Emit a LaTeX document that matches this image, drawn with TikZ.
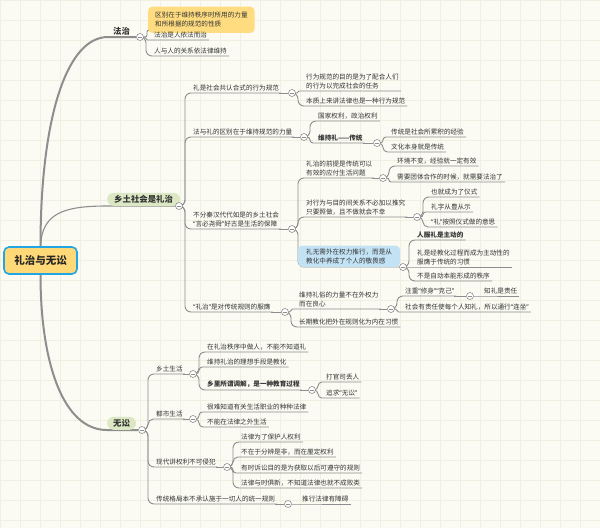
\documentclass[tikz,border=0pt]{standalone}
\usepackage{fontspec}
\newfontfamily\cjk{Noto Sans CJK SC}
\newfontfamily\latq{Noto Sans}
\newcommand\mmoq{{\latq “}}
\newcommand\mmcq{{\latq ”}}
\usetikzlibrary{calc}
\definecolor{bgc}{HTML}{FBFBF3}
\definecolor{gridc}{HTML}{EFEFE2}
\definecolor{ln}{HTML}{8E8E8E}
\definecolor{tx}{HTML}{333333}
\definecolor{rootfill}{HTML}{FFD978}
\definecolor{rootdraw}{HTML}{21A6E3}
\definecolor{pillc}{HTML}{DCE7C4}
\definecolor{hly}{HTML}{FFDC80}
\definecolor{hlb}{HTML}{C3E3F5}
\pgfdeclarelayer{back}
\pgfdeclarelayer{lines}
\pgfsetlayers{back,lines,main}
% #1 style, #2 parent circle, #3 pcx, #4 pcy, #5 name, #6 underline y, #7 text
\newcommand\mmkid[7][]{%
  \pgfmathsetmacro\rr{min(6,abs(#6-#4)/2)}%
  \node[txt,#1] (#5) at (#3+14,#6-1.8) {#7};%
  \begin{pgfonlayer}{lines}%
  \draw[br,rounded corners=\rr pt] (#2) -| ([xshift=-8pt,yshift=-1.8pt]#5.south west) -- ([xshift=2pt,yshift=-1.8pt]#5.south east);%
  \end{pgfonlayer}%
}
\newcommand\mmext[2]{%
  \begin{pgfonlayer}{lines}\draw[br] ([yshift=-1.8pt]#1.south east) -- (#2);\end{pgfonlayer}%
}
\begin{document}
\begin{tikzpicture}[x=1pt,y=-1pt,
  txt/.style={font=\cjk\fontsize{6.6}{9}\selectfont, text=tx, anchor=south west, inner xsep=0pt, inner ysep=0pt, align=left},
  bold/.style={font=\cjk\bfseries\fontsize{6.6}{9}\selectfont},
  br/.style={draw=ln, line width=0.9pt},
  trunk/.style={draw=ln, line width=2pt},
  col/.style={circle, draw=ln, fill=white, line width=0.6pt, minimum size=7pt, inner sep=0pt,
    path picture={\draw[ln,line width=0.7pt] ([xshift=-2pt]path picture bounding box.center) -- ([xshift=2pt]path picture bounding box.center);}},
  pill/.style={fill=pillc, rounded corners=6.5pt, minimum height=13pt, inner xsep=7pt, inner ysep=0pt, anchor=south west, text=tx, font=\cjk\bfseries\fontsize{8.4}{10}\selectfont},
  hlbox/.style={txt, rounded corners=4pt, inner xsep=7pt, inner ysep=5.5pt}
]
\useasboundingbox (0,0) rectangle (600,528);
\begin{pgfonlayer}{back}
\fill[bgc] (0,0) rectangle (600,528);
\foreach \i in {0,20,...,600} \draw[gridc,line width=0.5pt] (\i,0) -- (\i,528);
\foreach \i in {0,20,...,520} \draw[gridc,line width=0.5pt] (0,\i) -- (600,\i);
\end{pgfonlayer}

% root and level 1
\node[rounded corners=5pt, fill=rootfill, draw=rootdraw, line width=1.6pt, minimum width=73pt, minimum height=27pt, text=black!85, font=\cjk\bfseries\fontsize{10.5}{12}\selectfont] (root) at (40.5,260.5) {礼治与无讼};
\node[txt, font=\cjk\bfseries\fontsize{8.4}{10}\selectfont] (FZ) at (113,35.3) {法治};
\node[col] (FZC) at (140,37) {};
\node[pill] (QP) at (107,206) {乡土社会是礼治};
\node[col] (QC) at (179,206) {};
\node[pill, inner xsep=6pt] (WP) at (107,430) {无讼};
\node[col] (WC) at (142,430) {};
\begin{pgfonlayer}{lines}
\draw[trunk] (root.north) .. controls (40.5,120) and (66,37) .. (108,37) -- (FZC);
\draw[trunk] (root.south) .. controls (40.5,360) and (62,430) .. (WP.south west) -- (WC);
\draw[br,line width=1.1pt] (root.north) .. controls (42,214) and (62,206) .. (QP.south west) -- (QC);
\end{pgfonlayer}

% 法治
\node[hlbox, fill=hly] (F1) at (148,33) {区别在于维持秩序时所用的力量\\和所根据的规范的性质};
\begin{pgfonlayer}{lines}
\draw[br,rounded corners=2pt] (FZC) -| ([xshift=-1pt,yshift=3pt]F1.south west) -- ([xshift=5pt,yshift=3pt]F1.south west);
\end{pgfonlayer}
\mmkid{FZC}{140}{37}{F2}{40}{法治是人依法而治}
\mmkid{FZC}{140}{37}{F3}{56}{人与人的关系依法律维持}

% 乡土社会是礼治
\mmkid{QC}{179}{206}{A1}{93}{礼是社会共认合式的行为规范}
\node[col] (A1C) at (292,93) {};
\mmext{A1}{A1C}
\mmkid{A1C}{292}{93}{A11}{91}{行为规范的目的是为了配合人们\\的行为以完成社会的任务}
\mmkid{A1C}{292}{93}{A12}{106}{本质上来讲法律也是一种行为规范}

\mmkid{QC}{179}{206}{A2}{137}{法与礼的区别在于维持规范的力量}
\node[col] (A2C) at (304,137) {};
\mmext{A2}{A2C}
\mmkid{A2C}{304}{137}{A21}{121}{国家权利，政治权利}
\mmkid[bold]{A2C}{304}{137}{A22}{143}{维持礼——传统}
\node[col] (A22C) at (377,143) {};
\mmext{A22}{A22C}
\mmkid{A22C}{377}{143}{A221}{137}{传统是社会所累积的经验}
\mmkid{A22C}{377}{143}{A222}{152}{文化本身就是传统}

\mmkid{QC}{179}{206}{A3}{229}{不分秦汉代代如是的乡土社会\\\mmoq 言必尧舜\mmcq 好古是生活的保障}
\node[col] (A3C) at (292,229) {};
\mmext{A3}{A3C}
\mmkid{A3C}{292}{229}{A31}{178}{礼治的前提是传统可以\\有效的应付生活问题}
\node[col] (A31C) at (383,178) {};
\mmext{A31}{A31C}
\mmkid{A31C}{383}{178}{A311}{166}{环境不变，经验就一定有效}
\mmkid{A31C}{383}{178}{A312}{182}{需要团体合作的时候，就需要法治了}
\mmkid{A3C}{292}{229}{A32}{217}{对行为与目的间关系不必加以推究\\只要照做，且不做就会不幸}
\node[col] (A32C) at (417,217) {};
\mmext{A32}{A32C}
\mmkid{A32C}{417}{217}{A321}{197}{也就成为了仪式}
\mmkid{A32C}{417}{217}{A322}{212}{礼字从豊从示}
\mmkid{A32C}{417}{217}{A323}{227}{\mmoq 礼\mmcq 按照仪式做的意思}
\node[hlbox, fill=hlb, inner xsep=8pt, inner ysep=3pt] (A33) at (298,267) {礼无需外在权力推行，而是从\\教化中养成了个人的敬畏感};
\node[col] (A33C) at (403,267) {};
\begin{pgfonlayer}{lines}
\draw[br,rounded corners=6pt] (A3C) -| (A33.south west) -- (A33C);
\end{pgfonlayer}
\mmkid[bold]{A33C}{403}{267}{A331}{240}{人服礼是主动的}
\mmkid{A33C}{403}{267}{A332}{267}{礼是经教化过程而成为主动性的\\服膺于传统的习惯}
\mmkid{A33C}{403}{267}{A333}{281}{不是自动本能形成的秩序}

\mmkid{QC}{179}{206}{A4}{312}{\mmoq 礼治\mmcq 是对传统规则的服膺}
\node[col] (A4C) at (285,312) {};
\mmext{A4}{A4C}
\mmkid{A4C}{285}{312}{A41}{309}{维持礼俗的力量不在外权力\\而在良心}
\node[col] (A41C) at (391,309) {};
\mmext{A41}{A41C}
\mmkid{A41C}{391}{309}{A411}{296}{注重\mmoq 修身\mmcq\mmoq 克己\mmcq}
\node[col] (A411C) at (470,296) {};
\mmext{A411}{A411C}
\mmkid{A411C}{470}{296}{A4111}{296}{知礼是责任}
\mmkid{A41C}{391}{309}{A412}{312}{社会有责任使每个人知礼，所以通行\mmoq 连坐\mmcq}
\mmkid{A4C}{285}{312}{A42}{327}{长期教化把外在规则化为内在习惯}

% 无讼
\mmkid{WC}{142}{430}{B1}{374}{乡土生活}
\node[col] (B1C) at (193,374) {};
\mmext{B1}{B1C}
\mmkid{B1C}{193}{374}{B11}{352}{在礼治秩序中做人，不能不知道礼}
\mmkid{B1C}{193}{374}{B12}{367}{维持礼治的理想手段是教化}
\mmkid[bold]{B1C}{193}{374}{B13}{390}{乡里所谓调解，是一种教育过程}
\node[col] (B13C) at (312,390) {};
\mmext{B13}{B13C}
\mmkid{B13C}{312}{390}{B131}{382}{打官司丢人}
\mmkid{B13C}{312}{390}{B132}{398}{追求\mmoq 无讼\mmcq}
\mmkid{WC}{142}{430}{B2}{419}{都市生活}
\node[col] (B2C) at (193,419) {};
\mmext{B2}{B2C}
\mmkid{B2C}{193}{419}{B21}{412}{很难知道有关生活职业的种种法律}
\mmkid{B2C}{193}{419}{B22}{427}{不能在法律之外生活}
\mmkid{WC}{142}{430}{B3}{467}{现代讲权利不可侵犯}
\node[col] (B3C) at (227,467) {};
\mmext{B3}{B3C}
\mmkid{B3C}{227}{467}{B31}{442}{法律为了保护人权利}
\mmkid{B3C}{227}{467}{B32}{457}{不在于分辨是非，而在厘定权利}
\mmkid{B3C}{227}{467}{B33}{473}{有时诉讼目的是为获取以后可遵守的规则}
\mmkid{B3C}{227}{467}{B34}{488}{法律与时俱新，不知道法律也就不成败类}
\mmkid{WC}{142}{430}{B4}{504}{传统格局本不承认施于一切人的统一规则}
\node[col] (B4C) at (288,504) {};
\mmext{B4}{B4C}
\mmkid{B4C}{288}{504}{B41}{504}{推行法律有障碍}
\end{tikzpicture}
\end{document}
